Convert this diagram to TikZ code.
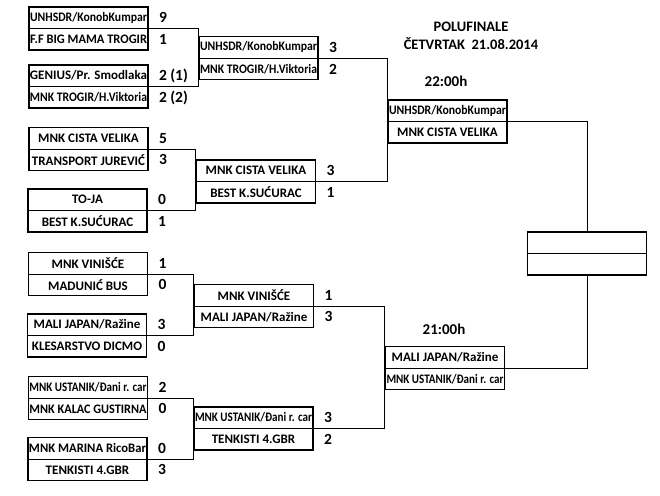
\documentclass[tikz,border=0pt]{standalone}
\usepackage{fontspec}
\usepackage{graphicx}
\setmainfont{Carlito}
\usetikzlibrary{positioning}
\tikzset{
  game/.style={
      rectangle, draw, line width=1.6pt,
      minimum width=119pt, minimum height=43pt,
      inner sep=0pt,
  },
  team/.style={
      minimum height=21.5pt, inner sep=0pt,
      font=\fontsize{13}{14}\selectfont\bfseries,
  },
  score/.style={
      minimum height=21.5pt, inner xsep=10pt, inner ysep=0pt,
      font=\fontsize{15.5}{16}\selectfont\bfseries,
  },
  split/.style={draw, line width=0.8pt},
  line/.style={draw, line width=0.8pt},
  title/.style={font=\fontsize{14.5}{15}\selectfont\bfseries},
  hour/.style={font=\fontsize{15}{15}\selectfont\bfseries},
}
% squeeze a long team name into the box
\newcommand{\fitname}[1]{\resizebox{\ifdim\width>117pt 117pt\else\width\fi}{\height}{#1}}
% one match: name, centre, two teams, two scores
\newcommand{\game}[6]{%
  \node[game] (#1) at (#2) {};
  \draw[split] (#1.west) -- (#1.east);
  \node[team, anchor=south] at (#1.center) {\fitname{#3}};
  \node[team, anchor=north] at (#1.center) {\fitname{#4}};
  \node[score, anchor=south west] at (#1.east) {#5};
  \node[score, anchor=north west] at (#1.east) {#6};
}
\begin{document}
\begin{tikzpicture}[x=1pt,y=-1pt]
\useasboundingbox (0,0) rectangle (660,495);

% first round
\game{a1}{88.5,28.5}{UNHSDR/KonobKumpar}{F.F BIG MAMA TROGIR}{9}{1}
\game{a2}{88.5,86.5}{GENIUS/Pr. Smodlaka}{MNK TROGIR/H.Viktoria}{2 (1)}{2 (2)}
\game{b1}{88.5,149}{MNK CISTA VELIKA}{TRANSPORT JUREVIĆ}{5}{3}
\game{b2}{87.5,210.5}{TO-JA}{BEST K.SUĆURAC}{0}{1}
\game{c1}{88,274}{MNK VINIŠĆE}{MADUNIĆ BUS}{1}{0}
\game{c2}{87,335.5}{MALI JAPAN/Ražine}{KLESARSTVO DICMO}{3}{0}
\game{d1}{88,398}{MNK USTANIK/Đani r. car}{MNK KALAC GUSTIRNA}{2}{0}
\game{d2}{87.5,459}{MNK MARINA RicoBar}{TENKISTI 4.GBR}{0}{3}

% second round
\game{aa}{258.5,58}{UNHSDR/KonobKumpar}{MNK TROGIR/H.Viktoria}{3}{2}
\game{bb}{256,181.5}{MNK CISTA VELIKA}{BEST K.SUĆURAC}{3}{1}
\game{cc}{254,306}{MNK VINIŠĆE}{MALI JAPAN/Ražine}{1}{3}
\game{dd}{253.5,428.5}{MNK USTANIK/Đani r. car}{TENKISTI 4.GBR}{3}{2}

% semi-finals and final
\game{s1}{447.5,121.5}{UNHSDR/KonobKumpar}{MNK CISTA VELIKA}{}{}
\game{s2}{445,368}{MALI JAPAN/Ražine}{MNK USTANIK/Đani r. car}{}{}
\node[game] (final) at (587,253.5) {};
\draw[split] (final.west) -- (final.east);

\node[title] (head) at (471,27) {POLUFINALE};
\node[title, below=-1pt of head] (date) {ČETVRTAK\ \ 21.08.2014};
\node[hour] (t1) at (446,81) {22:00h};
\node[hour] (t2) at (444,329) {21:00h};

\draw[line] (a1.east) -| (aa.west |- a2.east) -- (a2.east);
\draw[line] (b1.east) -| (bb.west |- b2.east) -- (b2.east);
\draw[line] (c1.east) -| (cc.west |- c2.east) -- (c2.east);
\draw[line] (d1.east) -| (dd.west |- d2.east) -- (d2.east);
\draw[line] (aa.east) -| (s1.west |- bb.east) -- (bb.east);
\draw[line] (cc.east) -| (s2.west |- dd.east) -- (dd.east);
\draw[line] (s1.east) -| (final.north);
\draw[line] (s2.east) -| (final.south);
\end{tikzpicture}
\end{document}
